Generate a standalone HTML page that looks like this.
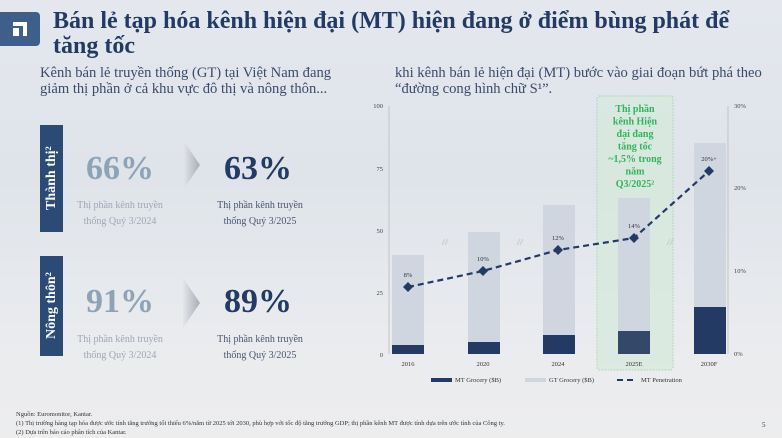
<!DOCTYPE html>
<html><head><meta charset="utf-8"><style>
body{margin:0;width:782px;height:438px;overflow:hidden;background:linear-gradient(180deg,#e4e8ee 0%,#dfe4ea 40%,#e9ebee 75%,#ededee 100%);font-family:"Liberation Serif",serif;position:relative}
.a{position:absolute}
.t{color:#233a64;font-weight:bold;font-size:24px;line-height:25px}
.s{color:#3a4a6a;font-size:14.6px;line-height:16px}
.vb{background:#2b4a75;color:#fff;font-weight:bold;font-size:14px;writing-mode:vertical-rl;transform:rotate(180deg);text-align:center;width:23px}
.big{font-weight:bold;font-size:34px;text-align:center;width:120px}
.cap{font-size:10px;line-height:16px;text-align:center;width:130px}
.f{font-size:6.5px;color:#333;line-height:9px}
</style></head><body>
<div class="a" style="left:0;top:12px;width:40px;height:34px;background:#3d5f8a;border-radius:0 4px 4px 0"></div>
<div class="a" style="left:13px;top:22px;width:14px;height:14px;border-top:4px solid #fff;border-right:4px solid #fff;box-sizing:border-box"></div>
<div class="a" style="left:13px;top:28px;width:6px;height:8px;background:#fff"></div>
<div class="a t" style="left:53px;top:9px">Bán lẻ tạp hóa kênh hiện đại (MT) hiện đang ở điểm bùng phát để<br>tăng tốc</div>
<div class="a s" style="left:40px;top:65px">Kênh bán lẻ truyền thống (GT) tại Việt Nam đang<br>giảm thị phần ở cả khu vực đô thị và nông thôn...</div>
<div class="a s" style="left:395px;top:65px">khi kênh bán lẻ hiện đại (MT) bước vào giai đoạn bứt phá theo<br>“đường cong hình chữ S¹”.</div>

<div class="a vb" style="left:40px;top:125px;height:107px;line-height:23px">Thành thị²</div>
<div class="a vb" style="left:40px;top:256px;height:100px;line-height:23px">Nông thôn²</div>
<div class="a big" style="left:60px;top:150px;color:#8ea2b8">66%</div>
<div class="a big" style="left:198px;top:150px;color:#233a64">63%</div>
<div class="a cap" style="left:55px;top:198px;color:#a0a8b4">Thị phần kênh truyền<br>thống Quý 3/2024</div>
<div class="a cap" style="left:195px;top:198px;color:#4a5670">Thị phần kênh truyền<br>thống Quý 3/2025</div>
<div class="a big" style="left:60px;top:283px;color:#8ea2b8">91%</div>
<div class="a big" style="left:198px;top:283px;color:#233a64">89%</div>
<div class="a cap" style="left:55px;top:332px;color:#a0a8b4">Thị phần kênh truyền<br>thống Quý 3/2024</div>
<div class="a cap" style="left:195px;top:332px;color:#4a5670">Thị phần kênh truyền<br>thống Quý 3/2025</div>
<svg class="a" style="left:0;top:0" width="782" height="438">
<defs><linearGradient id="g" x1="0" x2="1"><stop offset="0" stop-color="#e3e6ea"/><stop offset="1" stop-color="#a8adb6"/></linearGradient></defs>
<polygon points="183,140 200,165 183,190" fill="url(#g)"/>
<polygon points="183,278 200,303 183,328" fill="url(#g)"/>
<rect x="597" y="96" width="76" height="274" fill="#d7eadc" opacity=".75" stroke="#8fcf9f" stroke-dasharray="1.5,1.5" rx="3"/>
<g font-size="6.5" fill="#444" text-anchor="end">
<text x="383" y="108">100</text><text x="383" y="171">75</text><text x="383" y="233">50</text><text x="383" y="295">25</text><text x="383" y="357">0</text></g>
<g font-size="6.5" fill="#444"><text x="734" y="108">30%</text><text x="734" y="273">10%</text><text x="734" y="190">20%</text><text x="734" y="356">0%</text></g>
<line x1="389" y1="106" x2="389" y2="354" stroke="#bbb" stroke-width=".8"/>
<line x1="728" y1="106" x2="728" y2="354" stroke="#bbb" stroke-width=".8"/>
<g fill="#cfd6df"><rect x="392" y="255" width="32" height="99"/><rect x="468" y="232" width="32" height="122"/><rect x="543" y="205" width="32" height="149"/><rect x="618" y="198" width="32" height="156"/><rect x="694" y="143" width="32" height="211"/></g>
<g fill="#233a64"><rect x="392" y="345" width="32" height="9"/><rect x="468" y="342" width="32" height="12"/><rect x="543" y="335" width="32" height="19"/><rect x="618" y="331" width="32" height="23" fill="#34496a"/><rect x="694" y="307" width="32" height="47"/></g>
<g stroke="#c8ccd2" stroke-width="1"><path d="M442,245l3,-6M445,245l3,-6M517,245l3,-6M520,245l3,-6M667,245l3,-6M670,245l3,-6"/></g>
<polyline points="408,287 483,271 558,250 634,238 709,171" fill="none" stroke="#233a64" stroke-width="2.2" stroke-dasharray="6,4"/>
<g fill="#233a64"><path d="M408,282l5,5l-5,5l-5,-5z"/><path d="M483,266l5,5l-5,5l-5,-5z"/><path d="M558,245l5,5l-5,5l-5,-5z"/><path d="M634,233l5,5l-5,5l-5,-5z"/><path d="M709,166l5,5l-5,5l-5,-5z"/></g>
<g font-size="6.5" fill="#333" text-anchor="middle"><text x="408" y="277">8%</text><text x="483" y="261">10%</text><text x="558" y="240">12%</text><text x="634" y="228">14%</text><text x="709" y="161">20%+</text></g>
<g font-size="6.5" fill="#333" text-anchor="middle"><text x="408" y="366">2016</text><text x="483" y="366">2020</text><text x="558" y="366">2024</text><text x="634" y="366">2025E</text><text x="709" y="366">2030F</text></g>
<g font-size="10" fill="#2fb55a" font-weight="bold" text-anchor="middle"><text x="635" y="112">Thị phần</text><text x="635" y="124.5">kênh Hiện</text><text x="635" y="137">đại đang</text><text x="635" y="149.5">tăng tốc</text><text x="635" y="162">~1,5% trong</text><text x="635" y="174.5">năm</text><text x="635" y="187">Q3/2025²</text></g>
<rect x="431" y="378" width="21" height="4" fill="#233a64"/><text x="455" y="382" font-size="6.5" fill="#333">MT Grocery ($B)</text>
<rect x="525" y="378" width="21" height="4" fill="#cfd6df"/><text x="549" y="382" font-size="6.5" fill="#333">GT Grocery ($B)</text>
<path d="M617,380h6M627,380h6" stroke="#233a64" stroke-width="2"/><text x="641" y="382" font-size="6.5" fill="#333">MT Penetration</text>
<text x="762" y="427" font-size="7" fill="#333">5</text>
</svg>
<div class="a f" style="left:16px;top:410px">Nguồn: Euromonitor, Kantar.<br>(1) Thị trường hàng tạp hóa được ước tính tăng trưởng tối thiểu 6%/năm từ 2025 tới 2030, phù hợp với tốc độ tăng trưởng GDP; thị phần kênh MT được tính dựa trên ước tính của Công ty.<br>(2) Dựa trên báo cáo phân tích của Kantar.</div>
</body></html>
